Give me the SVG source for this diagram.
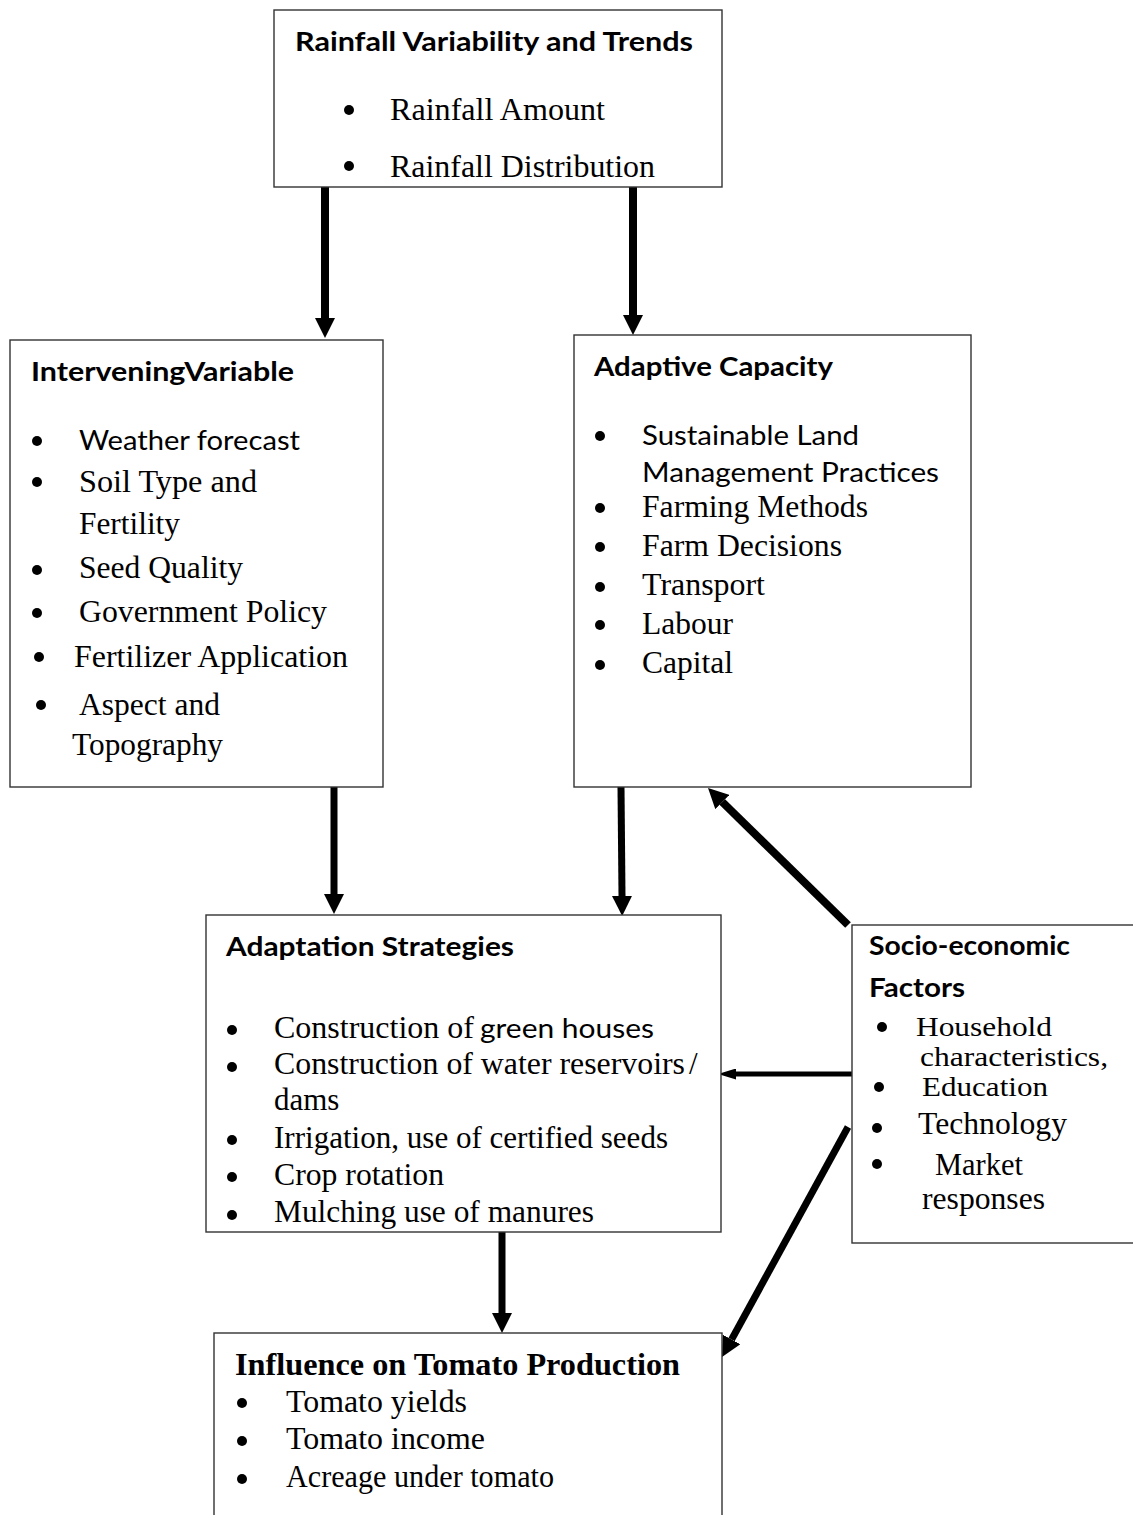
<svg xmlns="http://www.w3.org/2000/svg" width="1133" height="1515" viewBox="0 0 1133 1515">
<style>
.box{fill:#fff;stroke:#333;stroke-width:1.4}
.h{font-family:Lato,"Liberation Sans",sans-serif;font-weight:bold;font-size:26px;fill:#000}
.c{font-family:Lato,"Liberation Sans",sans-serif;font-size:26px;fill:#000}
.t{font-family:"Liberation Serif","Times New Roman",serif;font-size:31px;fill:#000}
.ts{font-family:"Liberation Serif","Times New Roman",serif;font-size:28px;fill:#000}
.tb{font-family:"Liberation Serif","Times New Roman",serif;font-size:31px;font-weight:bold;fill:#000}
.b{fill:#000}
.sh{stroke:#000;fill:none}
</style>
<defs>
<marker id="ah" markerUnits="userSpaceOnUse" markerWidth="20" markerHeight="20" viewBox="0 0 20 20" refX="0" refY="10" orient="auto"><path d="M0,0 L20,10 L0,20 z" fill="#000"/></marker>
<marker id="ahs" markerUnits="userSpaceOnUse" markerWidth="18" markerHeight="11" viewBox="0 0 18 11" refX="0" refY="5.5" orient="auto"><path d="M0,0 L18,5.5 L0,11 z" fill="#000"/></marker>
</defs>

<g id="connectors">
<line class="sh" x1="325" y1="187" x2="325" y2="318" stroke-width="8" marker-end="url(#ah)"/>
<line class="sh" x1="633" y1="187" x2="633" y2="315" stroke-width="8" marker-end="url(#ah)"/>
<line class="sh" x1="334" y1="787" x2="334" y2="894" stroke-width="7" marker-end="url(#ah)"/>
<line class="sh" x1="621" y1="787" x2="622" y2="896" stroke-width="7" marker-end="url(#ah)"/>
<line class="sh" x1="502" y1="1232" x2="502" y2="1313" stroke-width="7" marker-end="url(#ah)"/>
<line class="sh" x1="855" y1="1074" x2="736" y2="1074" stroke-width="5" marker-end="url(#ahs)"/>
<line class="sh" x1="848" y1="925" x2="722.3" y2="802" stroke-width="8" marker-end="url(#ah)"/>
<line class="sh" x1="848" y1="1127" x2="731.6" y2="1339.5" stroke-width="7" marker-end="url(#ah)"/>
</g>

<g id="rainfall">
<rect class="box" x="274" y="10" width="448" height="177"/>
<text class="h" x="295" y="51" textLength="398" lengthAdjust="spacingAndGlyphs">Rainfall Variability and Trends</text>
<circle class="b" cx="349" cy="110" r="5"/>
<text class="t" x="390" y="120" textLength="215" lengthAdjust="spacingAndGlyphs">Rainfall Amount</text>
<circle class="b" cx="349" cy="166" r="5"/>
<text class="t" x="390" y="177" textLength="265" lengthAdjust="spacingAndGlyphs">Rainfall Distribution</text>
</g>

<g id="intervening">
<rect class="box" x="10" y="340" width="373" height="447"/>
<text class="h" x="31" y="381" textLength="263" lengthAdjust="spacingAndGlyphs">InterveningVariable</text>
<circle class="b" cx="37" cy="441" r="5"/>
<text class="c" x="79" y="450" textLength="221" lengthAdjust="spacingAndGlyphs">Weather forecast</text>
<circle class="b" cx="37" cy="482" r="5"/>
<text class="t" x="79" y="492" textLength="178" lengthAdjust="spacingAndGlyphs">Soil Type and</text>
<text class="t" x="79" y="534" textLength="101" lengthAdjust="spacingAndGlyphs">Fertility</text>
<circle class="b" cx="37" cy="570" r="5"/>
<text class="t" x="79" y="578" textLength="164" lengthAdjust="spacingAndGlyphs">Seed Quality</text>
<circle class="b" cx="37" cy="613" r="5"/>
<text class="t" x="79" y="622" textLength="248" lengthAdjust="spacingAndGlyphs">Government Policy</text>
<circle class="b" cx="39" cy="657" r="5"/>
<text class="t" x="74" y="667" textLength="274" lengthAdjust="spacingAndGlyphs">Fertilizer Application</text>
<circle class="b" cx="41" cy="705" r="5"/>
<text class="t" x="79" y="715" textLength="141" lengthAdjust="spacingAndGlyphs">Aspect and</text>
<text class="t" x="72" y="755" textLength="151" lengthAdjust="spacingAndGlyphs">Topography</text>
</g>

<g id="adaptive-capacity">
<rect class="box" x="574" y="335" width="397" height="452"/>
<text class="h" x="594" y="376" textLength="239" lengthAdjust="spacingAndGlyphs">Adaptive Capacity</text>
<circle class="b" cx="600" cy="436" r="5"/>
<text class="c" x="642" y="445" textLength="217" lengthAdjust="spacingAndGlyphs">Sustainable Land</text>
<text class="c" x="642" y="482" textLength="297" lengthAdjust="spacingAndGlyphs">Management Practices</text>
<circle class="b" cx="600" cy="508" r="5"/>
<text class="t" x="642" y="517" textLength="226" lengthAdjust="spacingAndGlyphs">Farming Methods</text>
<circle class="b" cx="600" cy="547" r="5"/>
<text class="t" x="642" y="556" textLength="200" lengthAdjust="spacingAndGlyphs">Farm Decisions</text>
<circle class="b" cx="600" cy="587" r="5"/>
<text class="t" x="642" y="595" textLength="123" lengthAdjust="spacingAndGlyphs">Transport</text>
<circle class="b" cx="600" cy="625" r="5"/>
<text class="t" x="642" y="634" textLength="91" lengthAdjust="spacingAndGlyphs">Labour</text>
<circle class="b" cx="600" cy="665" r="5"/>
<text class="t" x="642" y="673" textLength="91" lengthAdjust="spacingAndGlyphs">Capital</text>
</g>

<g id="adaptation-strategies">
<rect class="box" x="206" y="915" width="515" height="317"/>
<text class="h" x="226" y="956" textLength="288" lengthAdjust="spacingAndGlyphs">Adaptation Strategies</text>
<circle class="b" cx="232" cy="1030" r="5"/>
<text x="274" y="1038"><tspan class="t" textLength="200" lengthAdjust="spacingAndGlyphs">Construction of</tspan><tspan class="c" x="480" textLength="174" lengthAdjust="spacingAndGlyphs">green houses</tspan></text>
<circle class="b" cx="232" cy="1067" r="5"/>
<text class="t" x="274" y="1074"><tspan textLength="411" lengthAdjust="spacingAndGlyphs">Construction of water reservoirs</tspan><tspan x="689">/</tspan></text>
<text class="t" x="274" y="1110">dams</text>
<circle class="b" cx="232" cy="1140" r="5"/>
<text class="t" x="274" y="1148" textLength="394" lengthAdjust="spacingAndGlyphs">Irrigation, use of certified seeds</text>
<circle class="b" cx="232" cy="1177" r="5"/>
<text class="t" x="274" y="1185" textLength="170" lengthAdjust="spacingAndGlyphs">Crop rotation</text>
<circle class="b" cx="232" cy="1215" r="5"/>
<text class="t" x="274" y="1222" textLength="320" lengthAdjust="spacingAndGlyphs">Mulching use of manures</text>
</g>

<g id="socio-economic">
<rect class="box" x="852" y="925" width="290" height="318"/>
<text class="h" x="869" y="955" textLength="201" lengthAdjust="spacingAndGlyphs">Socio-economic</text>
<text class="h" x="869" y="997" textLength="96" lengthAdjust="spacingAndGlyphs">Factors</text>
<circle class="b" cx="882" cy="1027" r="5"/>
<text class="ts" x="916" y="1036" textLength="136" lengthAdjust="spacingAndGlyphs">Household</text>
<text class="ts" x="920" y="1066" textLength="188" lengthAdjust="spacingAndGlyphs">characteristics,</text>
<circle class="b" cx="879" cy="1087" r="5"/>
<text class="ts" x="922" y="1096" textLength="126" lengthAdjust="spacingAndGlyphs">Education</text>
<circle class="b" cx="877" cy="1128" r="5"/>
<text class="t" x="918" y="1134" textLength="149" lengthAdjust="spacingAndGlyphs">Technology</text>
<circle class="b" cx="877" cy="1164" r="5"/>
<text class="t" x="935" y="1175" textLength="88" lengthAdjust="spacingAndGlyphs">Market</text>
<text class="t" x="922" y="1209" textLength="123" lengthAdjust="spacingAndGlyphs">responses</text>
</g>

<g id="tomato-production">
<rect class="box" x="214" y="1333" width="508" height="200"/>
<text class="tb" x="235" y="1375" textLength="445" lengthAdjust="spacingAndGlyphs">Influence on Tomato Production</text>
<circle class="b" cx="242" cy="1403" r="5"/>
<text class="t" x="286" y="1412" textLength="181" lengthAdjust="spacingAndGlyphs">Tomato yields</text>
<circle class="b" cx="242" cy="1441" r="5"/>
<text class="t" x="286" y="1449" textLength="199" lengthAdjust="spacingAndGlyphs">Tomato income</text>
<circle class="b" cx="242" cy="1479" r="5"/>
<text class="t" x="286" y="1487" textLength="268" lengthAdjust="spacingAndGlyphs">Acreage under tomato</text>
</g>
</svg>
